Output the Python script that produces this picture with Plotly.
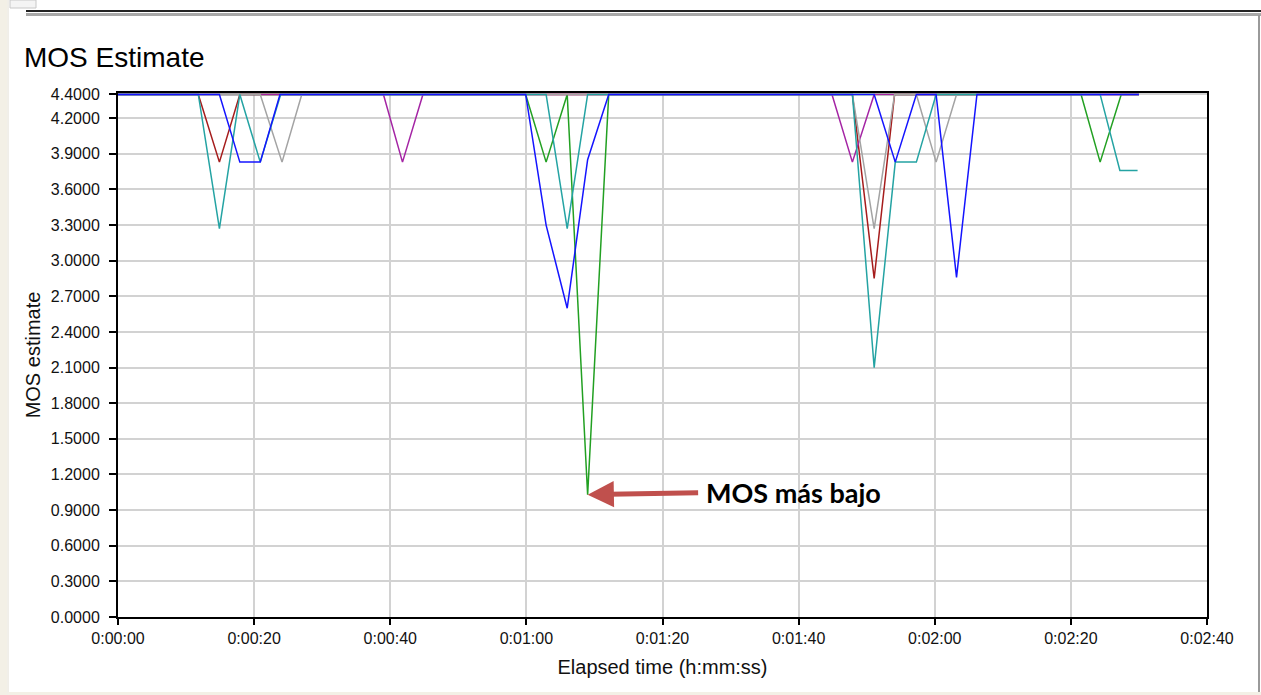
import plotly.graph_objects as go

# ---------------- data ----------------
x_tick_vals = [0, 20, 40, 60, 80, 100, 120, 140, 160]
x_tick_text = ["0:00:00", "0:00:20", "0:00:40", "0:01:00", "0:01:20",
               "0:01:40", "0:02:00", "0:02:20", "0:02:40"]
y_tick_vals = [0.0, 0.3, 0.6, 0.9, 1.2, 1.5, 1.8, 2.1, 2.4, 2.7, 3.0, 3.3, 3.6, 3.9, 4.2, 4.4]

t_red = [0, 11.8, 14.9, 17.9, 107.9, 111.1, 114.1, 150]
v_red = [4.4, 4.4, 3.83, 4.4, 4.4, 2.85, 4.4, 4.4]

t_green = [0, 59.9, 62.9, 66.0, 69.0, 72.1, 141.5, 144.3, 147.4, 150]
v_green = [4.4, 4.4, 3.83, 4.4, 1.03, 4.4, 4.4, 3.83, 4.4, 4.4]

t_purple = [0, 39.0, 41.8, 44.8, 104.9, 107.9, 111.1, 150]
v_purple = [4.4, 4.4, 3.83, 4.4, 4.4, 3.83, 4.4, 4.4]

t_gray = [0, 20.9, 24.1, 27.0, 107.9, 111.1, 114.1, 117.3, 120.2, 123.2, 150]
v_gray = [4.4, 4.4, 3.83, 4.4, 4.4, 3.27, 4.4, 4.4, 3.83, 4.4, 4.4]

t_teal = [0, 11.8, 14.9, 17.9, 20.9, 23.9, 62.9, 66.0, 69.0, 107.9, 111.1,
          114.2, 117.3, 120.2, 144.3, 147.2, 149.8]
v_teal = [4.4, 4.4, 3.27, 4.4, 3.83, 4.4, 4.4, 3.27, 4.4, 4.4, 2.10,
          3.83, 3.83, 4.4, 4.4, 3.76, 3.76]

t_blue = [0, 14.9, 17.9, 20.9, 23.8, 59.9, 62.9, 66.0, 69.0, 72.1, 111.1,
          114.2, 117.3, 120.2, 123.2, 126.2, 150]
v_blue = [4.4, 4.4, 3.83, 3.83, 4.4, 4.4, 3.30, 2.60, 3.85, 4.4, 4.4,
          3.83, 4.4, 4.4, 2.86, 4.4, 4.4]

series = [
    ("red", t_red, v_red, "#a51c1c"),
    ("green", t_green, v_green, "#22a022"),
    ("purple", t_purple, v_purple, "#a424a4"),
    ("gray", t_gray, v_gray, "#a3a3a3"),
    ("teal", t_teal, v_teal, "#24a3a3"),
    ("blue", t_blue, v_blue, "#1414ff"),
]

FONT = "Liberation Sans"

fig = go.Figure()
for name, t, v, c in series:
    fig.add_trace(go.Scatter(x=t, y=v, mode="lines", name=name,
                             line=dict(color=c, width=1.5), showlegend=False))

# plot area in pixels
L, R, T, B = 118, 1207, 93, 617
W, H = 1261, 695

def px(xp):
    return (xp - L) / (R - L)

def py(yp):
    return (B - yp) / (B - T)

fig.update_layout(
    width=W, height=H,
    margin=dict(l=L, r=W - R, t=T, b=H - B, pad=0),
    paper_bgcolor="white", plot_bgcolor="white",
    title=dict(text="MOS Estimate", x=24 / W, xanchor="left", xref="container",
               y=1 - 57 / H, yanchor="middle", yref="container",
               font=dict(family=FONT, size=28, color="black")),
    xaxis=dict(range=[0, 160], tickvals=x_tick_vals, ticktext=x_tick_text,
               showgrid=True, gridcolor="#d2d2d2", gridwidth=1.5,
               showline=True, linecolor="black", linewidth=2, mirror=True,
               ticks="outside", ticklen=6, tickwidth=1.5, tickcolor="black",
               tickfont=dict(family=FONT, size=16, color="#111"),
               zeroline=False,
               title=dict(text="Elapsed time (h:mm:ss)",
                          font=dict(family=FONT, size=20, color="#111"),
                          standoff=14)),
    yaxis=dict(range=[0, 4.412], tickvals=y_tick_vals,
               tickformat=".4f",
               showgrid=True, gridcolor="#d2d2d2", gridwidth=1.5,
               showline=True, linecolor="black", linewidth=2, mirror=True,
               ticks="outside", ticklen=7, tickwidth=1.5, tickcolor="black",
               ticklabelstandoff=6,
               tickfont=dict(family=FONT, size=16, color="#111"),
               zeroline=False,
               title=dict(text="MOS estimate",
                          font=dict(family=FONT, size=20, color="#111"),
                          standoff=5)),
)

# arrow pointing at the lowest MOS value (green series minimum)
i_min = v_green.index(min(v_green))
fig.add_annotation(x=t_green[i_min], y=v_green[i_min], xref="x", yref="y",
                   text="", showarrow=True, axref="pixel", ayref="pixel",
                   ax=112, ay=-2, arrowhead=2, arrowsize=1.05, arrowwidth=5,
                   arrowcolor="#c0504d", standoff=0)
fig.add_annotation(x=px(704), y=py(492), xref="paper", yref="paper",
                   text="<b>MOS más bajo</b>", showarrow=False,
                   xanchor="left", yanchor="middle",
                   font=dict(family="Lato", size=27, color="black"))

# window frame decoration
shapes = [
    dict(type="rect", x0=px(0), x1=px(7), y0=py(0), y1=py(H), fillcolor="#f3f0e6",
         line=dict(width=0)),
    dict(type="line", x0=px(8), x1=px(8), y0=py(0), y1=py(H), line=dict(color="#e2ded2", width=1)),
    dict(type="rect", x0=px(10), x1=px(36), y0=py(0), y1=py(8), fillcolor="#f4f4f4",
         line=dict(color="#c8c8c8", width=1)),
    dict(type="line", x0=px(26), x1=px(W), y0=py(11), y1=py(11), line=dict(color="#222", width=2)),
    dict(type="line", x0=px(26), x1=px(W), y0=py(14.5), y1=py(14.5), line=dict(color="#a8a8a8", width=3)),
    dict(type="line", x0=px(1259), x1=px(1259), y0=py(15), y1=py(H), line=dict(color="#9a9a9a", width=2)),
    dict(type="rect", x0=px(8), x1=px(W), y0=py(692), y1=py(H), fillcolor="#f3f0e6",
         line=dict(width=0)),
]
for s in shapes:
    s.update(xref="paper", yref="paper", layer="above")
    fig.add_shape(**s)

fig.write_html("out.html",
               config={"displayModeBar": False},
               post_script="document.body.style.margin='0px';"
                           "document.body.style.overflow='hidden';")
